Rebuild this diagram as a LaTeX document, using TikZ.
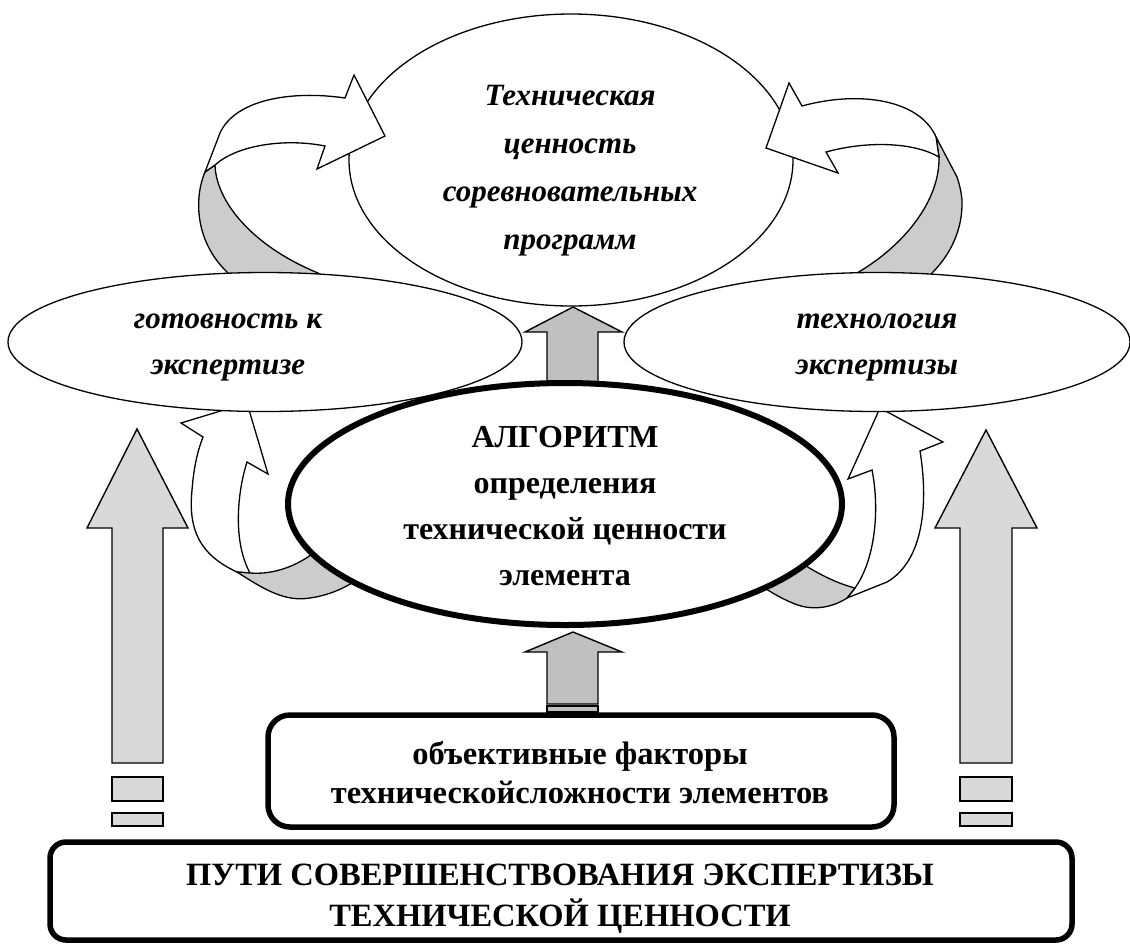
\documentclass[tikz,border=0pt]{standalone}
\usepackage{fontspec}
\setmainfont{Liberation Serif}
\usetikzlibrary{shapes.geometric}
\definecolor{backgray}{RGB}{204,204,204}
\definecolor{midgray}{RGB}{192,192,192}
\definecolor{lightgray}{RGB}{217,217,217}
\begin{document}
\begin{tikzpicture}[x=1pt,y=-1pt,
  oval/.style={draw, ellipse, fill=white, inner sep=0pt, line width=1.3pt},
  thickoval/.style={oval, line width=6pt},
  ribbon/.style={draw, fill=white, line width=1.3pt, line join=miter},
  ribbonback/.style={draw, fill=backgray, line width=1.3pt},
  blockarrow/.style={draw, line width=1.4pt, line join=miter},
  stripe/.style={draw, line width=1.4pt},
  roundbox/.style={draw, line width=5.5pt, fill=white, inner sep=0pt},
  itxt/.style={align=center, inner sep=0pt, font=\fontsize{31}{48}\selectfont\bfseries\itshape},
  sidetxt/.style={align=center, inner sep=0pt, font=\fontsize{31}{46}\selectfont\bfseries\itshape},
  btxt/.style={align=center, inner sep=0pt, font=\fontsize{32}{46}\selectfont\bfseries},
  boxtxt/.style={align=center, inner sep=0pt, font=\fontsize{32.5}{39}\selectfont\bfseries},
  bigtxt/.style={align=center, inner sep=0pt, font=\fontsize{32.5}{41}\selectfont\bfseries},
]
\useasboundingbox (0,0) rectangle (1130,946);

% top ellipse
\node[oval, minimum width=444pt, minimum height=292pt] (top) at (571,160) {};
\node[itxt] (toptext) at (570,171) {Техническая\\ценность\\соревновательных\\программ};

% top-left curved arrow
\draw[ribbonback] (237,285) -- (228,273) .. controls (193,240) and (195,195) .. (205,172) -- (215,165) .. controls (216,200) and (250,245) .. (318,273) -- (335,285) -- cycle;
\draw[ribbon] (205,172) -- (220,133) .. controls (235,100) and (290,90) .. (345,98) -- (354,75) -- (385,136) -- (317,169) -- (325,146) .. controls (285,138) and (237,145) .. (215,165) -- cycle;

% top-right curved arrow
\draw[ribbonback] (936,137) -- (939,157) .. controls (940,200) and (905,245) .. (857,273) -- (845,285) -- (925,285) -- (932,273) .. controls (950,255) and (963,230) .. (962,200) .. controls (961,190) and (959,183) .. (957,177) -- cycle;
\draw[ribbon] (936,137) .. controls (920,100) and (860,90) .. (802,106) -- (789,83) -- (766,148) -- (838,173) -- (826,152) .. controls (870,140) and (915,143) .. (939,157) -- cycle;

% lower-left curved arrow
\draw[ribbon] (237,572) .. controls (200,555) and (188,530) .. (192,490) .. controls (194,465) and (198,450) .. (203,437) -- (181,423) -- (247,403) -- (268,474) -- (247,462) .. controls (238,490) and (232,540) .. (250,573) -- cycle;
\draw[ribbonback] (237,572) .. controls (265,590) and (285,602) .. (310,598) .. controls (330,595) and (345,588) .. (360,578) -- (320,548) .. controls (300,565) and (275,575) .. (250,573) -- cycle;

% lower-right curved arrow
\draw[ribbon] (855,588) .. controls (875,560) and (880,510) .. (872,470) -- (848,479) -- (880,408) -- (943,442) -- (920,451) .. controls (928,500) and (925,560) .. (887,582) -- (847,598) -- cycle;
\draw[ribbonback] (847,598) .. controls (835,606) and (815,612) .. (795,604) .. controls (785,600) and (775,595) .. (760,585) -- (790,555) .. controls (810,570) and (835,583) .. (855,588) -- cycle;

% side ellipses
\node[oval, minimum width=514pt, minimum height=139pt] (left) at (265,342) {};
\node[sidetxt] (lefttext) at (228,347) {готовность к\\экспертизе};
\node[oval, minimum width=506pt, minimum height=139pt] (right) at (877,342) {};
\node[sidetxt] (righttext) at (877,347) {технология\\экспертизы};

% central upper arrow
\draw[blockarrow, fill=midgray] (547,383) -- (547,332) -- (525,332) -- (573,307) -- (622,332) -- (598,332) -- (598,383) -- cycle;

% algorithm ellipse
\node[thickoval, minimum width=554pt, minimum height=242pt] (alg) at (565,504) {};
\node[btxt] (algtext) at (565,506) {АЛГОРИТМ\\определения\\технической ценности\\элемента};

% lower central arrow
\draw[blockarrow, fill=midgray] (547,704) -- (547,652) -- (525,652) -- (573,632) -- (622,652) -- (598,652) -- (598,704) -- cycle;
\draw[stripe, fill=midgray] (547,706) rectangle (598,712);

% factors box
\node[roundbox, rounded corners=22pt, minimum width=626pt, minimum height=112pt] (factors) at (581,771) {};
\node[boxtxt] (factorstext) at (580,773) {объективные факторы\\техническойсложности элементов};

% side straight arrows
\draw[blockarrow, fill=lightgray] (112,763) -- (112,528) -- (87,528) -- (137,429) -- (188,528) -- (163,528) -- (163,763) -- cycle;
\draw[stripe, fill=lightgray] (112,777) rectangle (163,801);
\draw[stripe, fill=lightgray] (112,813) rectangle (163,826);
\draw[blockarrow, fill=lightgray] (960,763) -- (960,528) -- (935,528) -- (986,430) -- (1037,528) -- (1012,528) -- (1012,763) -- cycle;
\draw[stripe, fill=lightgray] (960,777) rectangle (1012,801);
\draw[stripe, fill=lightgray] (960,813) rectangle (1012,826);

% big box
\node[roundbox, rounded corners=16pt, minimum width=1022pt, minimum height=98pt] (ways) at (561,891) {};
\node[bigtxt] (waystext) at (560,899) {ПУТИ СОВЕРШЕНСТВОВАНИЯ ЭКСПЕРТИЗЫ\\ТЕХНИЧЕСКОЙ ЦЕННОСТИ};
\end{tikzpicture}
\end{document}
